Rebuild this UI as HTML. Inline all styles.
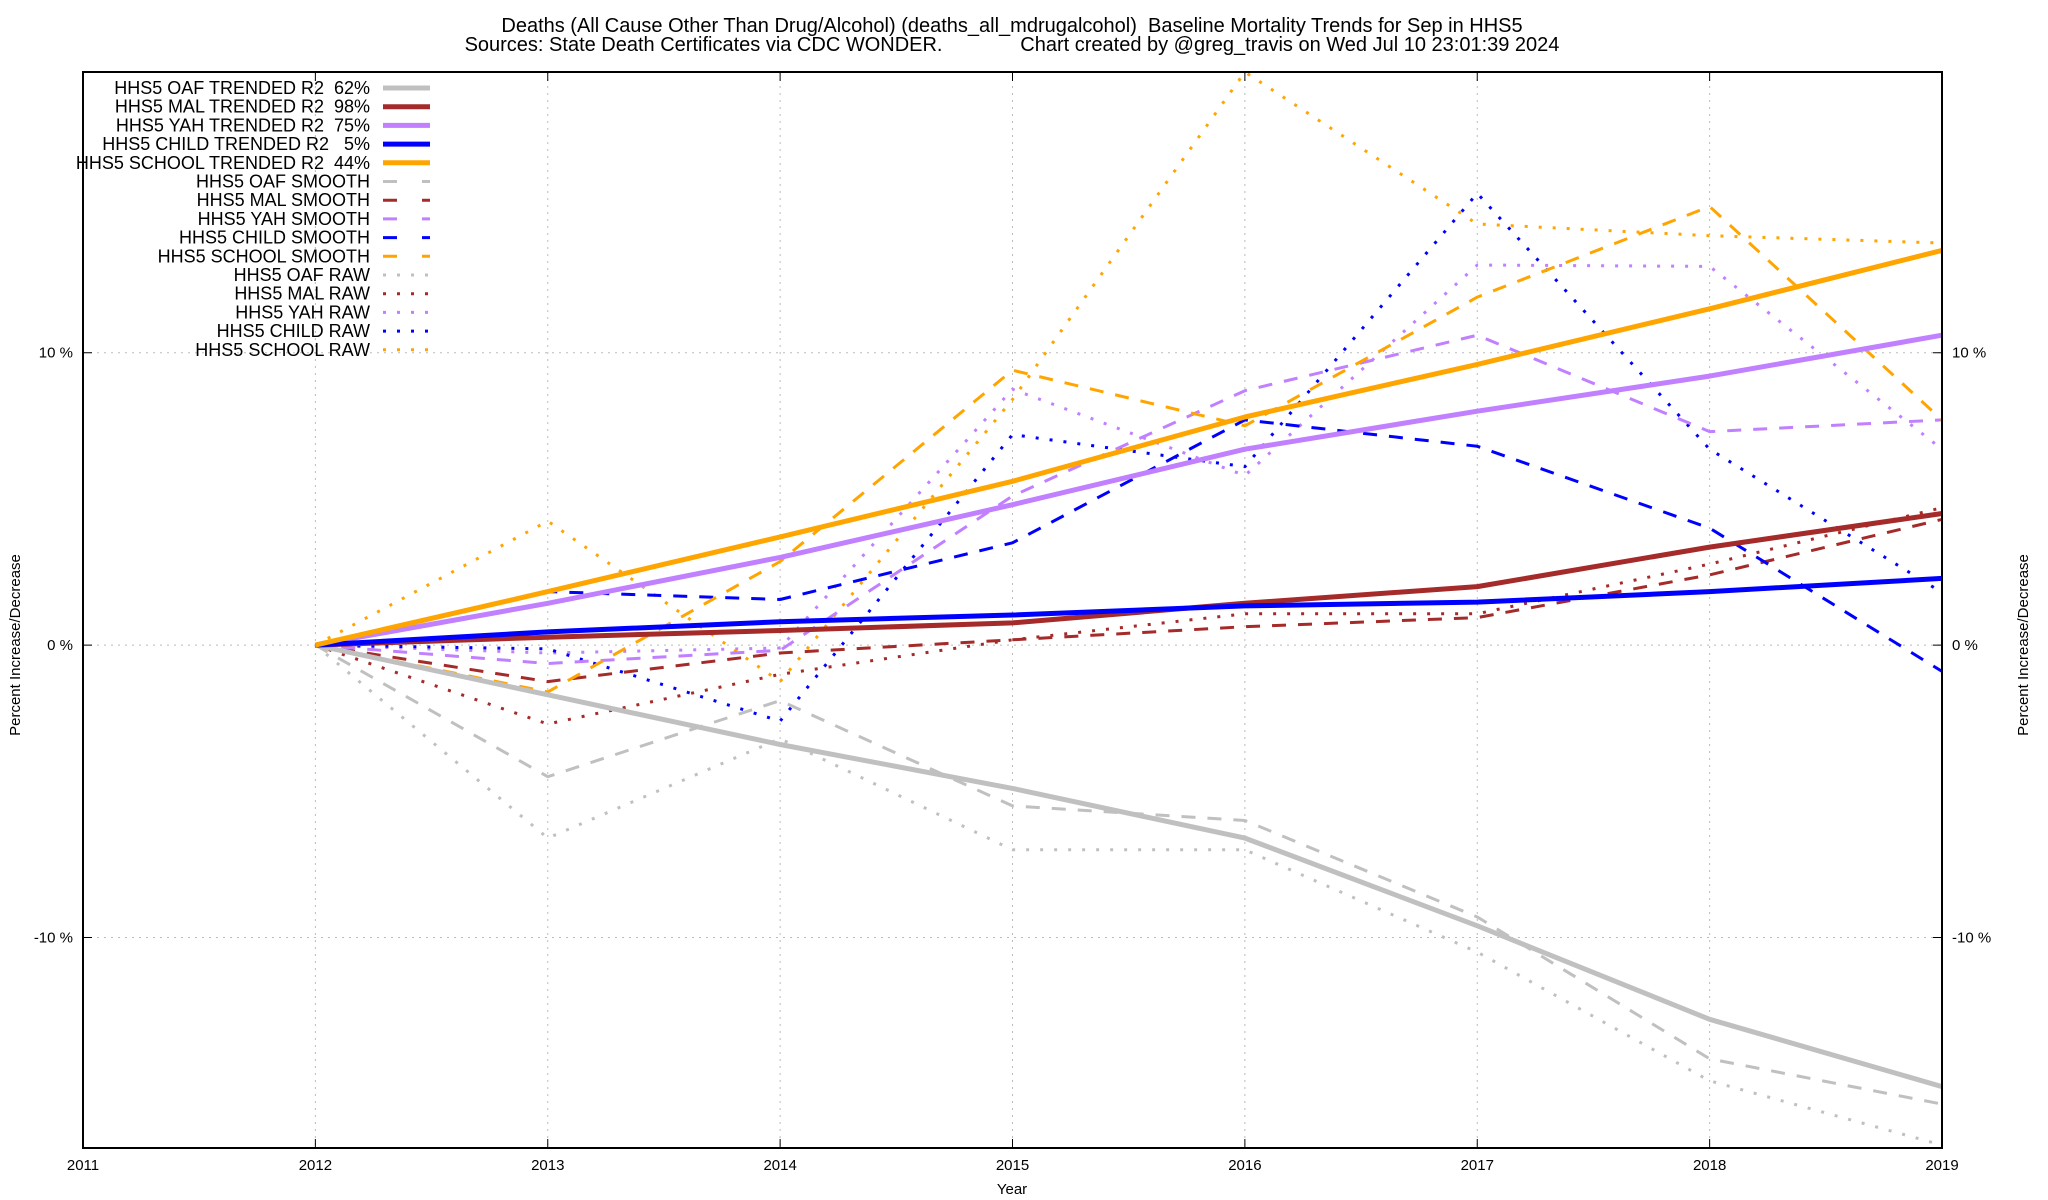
<!DOCTYPE html>
<html><head><meta charset="utf-8"><style>
html,body{margin:0;padding:0;background:#fff;}
svg{display:block;font-family:"Liberation Sans",sans-serif;}
svg text{white-space:pre;}
</style></head><body>
<svg id="chart" width="2048" height="1200" viewBox="0 0 2048 1200" xmlns="http://www.w3.org/2000/svg">
<text x="1012" y="32" font-size="20" text-anchor="middle">Deaths (All Cause Other Than Drug/Alcohol) (deaths_all_mdrugalcohol)  Baseline Mortality Trends for Sep in HHS5</text>
<text x="1012" y="51" font-size="20" text-anchor="middle">Sources: State Death Certificates via CDC WONDER.              Chart created by @greg_travis on Wed Jul 10 23:01:39 2024</text>
<g id="grid"></g>
<g id="series"></g>
<g id="axes"></g>
<g id="legend"></g>
<text x="1012" y="1194" font-size="15" text-anchor="middle">Year</text>
<text transform="translate(20,645) rotate(-90)" font-size="15" text-anchor="middle">Percent Increase/Decrease</text>
<text transform="translate(2028,645) rotate(-90)" font-size="15" text-anchor="middle">Percent Increase/Decrease</text>
</svg>
<script>
const years = [2012,2013,2014,2015,2016,2017,2018,2019];
const xTicks = [2011,2012,2013,2014,2015,2016,2017,2018,2019];
const yTicks = [-10,0,10];
const yTickLabels = ["-10 %","0 %","10 %"];
const oafTrend = [0,-1.7,-3.4,-4.9,-6.6,-9.6,-12.8,-15.1];
const malTrend = [0,0.27,0.5,0.76,1.43,2.0,3.35,4.5];
const yahTrend = [0,1.43,3.0,4.8,6.7,8.0,9.2,10.6];
const childTrend = [0,0.45,0.8,1.03,1.34,1.47,1.83,2.28];
const schoolTrend = [0,1.83,3.7,5.6,7.8,9.6,11.5,13.5];
const oafSmooth = [0,-4.5,-1.9,-5.5,-6.0,-9.3,-14.15,-15.7];
const malSmooth = [0,-1.25,-0.27,0.18,0.63,0.94,2.4,4.3];
const yahSmooth = [0,-0.63,-0.18,5.1,8.7,10.6,7.3,7.7];
const childSmooth = [0,1.83,1.56,3.5,7.7,6.8,4.0,-0.9];
const schoolSmooth = [0,-1.6,2.86,9.4,7.5,11.9,15.0,7.7];
const oafRaw = [0,-6.6,-3.2,-7.0,-7.0,-10.5,-14.9,-17.1];
const malRaw = [0,-2.7,-1.0,0.18,1.07,1.07,2.77,4.7];
const yahRaw = [0,-0.27,-0.1,8.75,5.8,13.0,12.95,6.7];
const childRaw = [0,-0.13,-2.6,7.2,6.1,15.45,6.7,1.8];
const schoolRaw = [0,4.24,-1.25,8.4,19.6,14.4,14.0,13.75];

const L=83,R=1942,T=72,B=1148;
const X0=2011,X1=2019,Y0=-17.2,Y1=19.6;
function xs(v){return L+(v-X0)/(X1-X0)*(R-L);}
function ys(v){return B-(v-Y0)/(Y1-Y0)*(B-T);}
const NS="http://www.w3.org/2000/svg";
function mk(tag,attrs,parent){const e=document.createElementNS(NS,tag);for(const k in attrs)e.setAttribute(k,attrs[k]);parent.appendChild(e);return e;}
const grid=document.getElementById('grid'),axes=document.getElementById('axes'),ser=document.getElementById('series'),leg=document.getElementById('legend');

xTicks.forEach(t=>{
  const x=xs(t);
  if(t>X0&&t<X1){const g=mk('line',{x1:x,x2:x,y1:T,y2:B,stroke:'#bbb','stroke-width':1,'stroke-dasharray':'2,5'},grid);
  
  }
  const tk=mk('path',{d:`M${x},${B}v-9M${x},${T}v9`,stroke:'#000','stroke-width':1},axes);
  
  
  const lb=mk('text',{x:x,y:B+22,'font-size':15,'text-anchor':'middle'},axes);lb.textContent=t;
  
  
});
yTicks.forEach((t,i)=>{
  const y=ys(t);
  const g=mk('line',{x1:L,x2:R,y1:y,y2:y,stroke:'#bbb','stroke-width':1,'stroke-dasharray':'2,5'},grid);
  
  
  const tk=mk('path',{d:`M${L},${y}h9M${R},${y}h-9`,stroke:'#000','stroke-width':1},axes);
  
  
  const a=mk('text',{x:L-10,y:y+5,'font-size':15,'text-anchor':'end'},axes);a.textContent=yTickLabels[i];
  
  
  const b=mk('text',{x:R+10,y:y+5,'font-size':15,'text-anchor':'start'},axes);b.textContent=yTickLabels[i];
  
  
});
const frame=mk('rect',{x:L,y:T,width:R-L,height:B-T,fill:'none',stroke:'#000','stroke-width':2},axes);



const C={oaf:'#c0c0c0',mal:'#a52a2a',yah:'#c080ff',child:'#0000ff',school:'#ffa500'};
const styles={trend:{w:5,d:'none'},smooth:{w:3,d:'14,12'},raw:{w:3,d:'3,11'}};
const series=[
 ['HHS5 OAF TRENDED R2  62%',oafTrend,C.oaf,'trend','oaf-trended'],
 ['HHS5 MAL TRENDED R2  98%',malTrend,C.mal,'trend','mal-trended'],
 ['HHS5 YAH TRENDED R2  75%',yahTrend,C.yah,'trend','yah-trended'],
 ['HHS5 CHILD TRENDED R2   5%',childTrend,C.child,'trend','child-trended'],
 ['HHS5 SCHOOL TRENDED R2  44%',schoolTrend,C.school,'trend','school-trended'],
 ['HHS5 OAF SMOOTH',oafSmooth,C.oaf,'smooth','oaf-smooth'],
 ['HHS5 MAL SMOOTH',malSmooth,C.mal,'smooth','mal-smooth'],
 ['HHS5 YAH SMOOTH',yahSmooth,C.yah,'smooth','yah-smooth'],
 ['HHS5 CHILD SMOOTH',childSmooth,C.child,'smooth','child-smooth'],
 ['HHS5 SCHOOL SMOOTH',schoolSmooth,C.school,'smooth','school-smooth'],
 ['HHS5 OAF RAW',oafRaw,C.oaf,'raw','oaf-raw'],
 ['HHS5 MAL RAW',malRaw,C.mal,'raw','mal-raw'],
 ['HHS5 YAH RAW',yahRaw,C.yah,'raw','yah-raw'],
 ['HHS5 CHILD RAW',childRaw,C.child,'raw','child-raw'],
 ['HHS5 SCHOOL RAW',schoolRaw,C.school,'raw','school-raw']
];
const order=[10,11,12,13,14,5,6,7,8,9,0,1,2,3,4];
order.forEach(i=>{
  const [name,vals,col,st,id]=series[i];const s=styles[st];
  const pts=vals.map((v,j)=>xs(years[j]).toFixed(1)+','+ys(v).toFixed(1)).join(' ');
  const p=mk('polyline',{points:pts,fill:'none',stroke:col,'stroke-width':s.w,'stroke-dasharray':s.d,'stroke-linejoin':'round'},ser);
  
  
});
series.forEach(([name,vals,col,st,id],i)=>{
  const y=88+i*18.7;const s=styles[st];
  const t=mk('text',{x:370,y:y+6,'font-size':18,'text-anchor':'end'},leg);t.textContent=name;
  t.style.whiteSpace='pre';
  
  
  const l=mk('line',{x1:383,x2:430,y1:y,y2:y,stroke:col,'stroke-width':s.w,'stroke-dasharray':st==='smooth'?'14,25':s.d},leg);
  
  
});
</script>
</body></html>
